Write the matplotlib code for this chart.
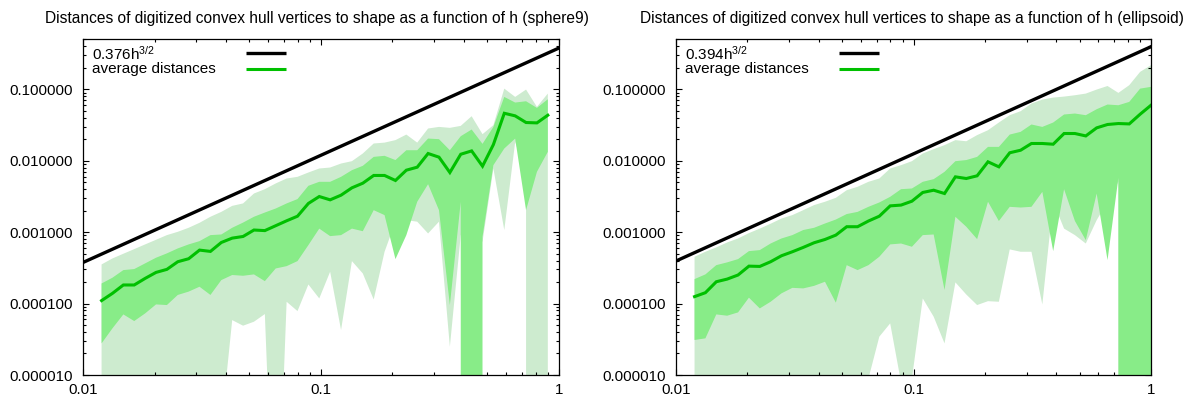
import numpy as np
import matplotlib
matplotlib.use("Agg")
import matplotlib.pyplot as plt
from matplotlib.ticker import LogLocator, FuncFormatter, NullFormatter
from matplotlib.transforms import Bbox, TransformedBbox

plt.rcParams['font.family'] = ['Liberation Sans', 'DejaVu Sans']
plt.rcParams['mathtext.fontset'] = 'custom'
plt.rcParams['mathtext.rm'] = 'Liberation Sans'
plt.rcParams['mathtext.it'] = 'Liberation Sans:italic'

# grid step h (0.9^k), shared by both shapes
h_sphere = [0.01197, 0.01330, 0.01478, 0.01642, 0.01825, 0.02028, 0.02253, 0.02503,
            0.02781, 0.03090, 0.03434, 0.03815, 0.04239, 0.04710, 0.05233, 0.05815,
            0.06461, 0.07179, 0.07977, 0.08863, 0.09848, 0.1094, 0.1216, 0.1351,
            0.1501, 0.1668, 0.1853, 0.2059, 0.2288, 0.2542, 0.2824, 0.3138,
            0.3487, 0.3874, 0.4305, 0.4783, 0.5314, 0.5905, 0.6561, 0.7290,
            0.8100, 0.9000]
h_ellipsoid = h_sphere + [1.0]

# sphere9: min / max, mean -/+ std, mean of vertex distances
sphere_max = [3.53e-4, 4.28e-4, 4.98e-4, 5.78e-4, 6.73e-4, 7.81e-4, 9.08e-4, 1.01e-3,
              1.15e-3, 1.35e-3, 1.64e-3, 1.92e-3, 2.33e-3, 2.52e-3, 3.47e-3, 3.99e-3,
              4.80e-3, 5.63e-3, 5.94e-3, 6.83e-3, 7.77e-3, 8.02e-3, 9.12e-3, 9.84e-3,
              1.26e-2, 1.74e-2, 1.79e-2, 1.94e-2, 2.32e-2, 1.79e-2, 2.82e-2, 2.97e-2,
              2.88e-2, 3.07e-2, 4.19e-2, 2.35e-2, 3.14e-2, 0.102, 7.81e-2, 9.89e-2,
              5.66e-2, 8.69e-2]
sphere_sd_hi = [1.91e-4, 2.30e-4, 2.94e-4, 3.04e-4, 3.65e-4, 4.38e-4, 5.04e-4, 5.91e-4,
                6.73e-4, 7.48e-4, 9.08e-4, 9.27e-4, 1.15e-3, 1.36e-3, 1.64e-3, 1.88e-3,
                2.14e-3, 2.52e-3, 2.90e-3, 4.45e-3, 5.06e-3, 5.06e-3, 5.94e-3, 7.36e-3,
                8.47e-3, 1.13e-2, 1.17e-2, 1.02e-2, 1.40e-2, 1.40e-2, 2.04e-2, 2.00e-2,
                1.40e-2, 2.20e-2, 2.73e-2, 1.72e-2, 2.97e-2, 7.81e-2, 6.51e-2, 6.79e-2,
                5.48e-2, 7.24e-2]
sphere_avg = [1.10e-4, 1.39e-4, 1.82e-4, 1.82e-4, 2.25e-4, 2.73e-4, 3.01e-4, 3.85e-4,
              4.24e-4, 5.60e-4, 5.37e-4, 7.16e-4, 8.24e-4, 8.69e-4, 1.07e-3, 1.05e-3,
              1.23e-3, 1.44e-3, 1.67e-3, 2.52e-3, 3.15e-3, 2.83e-3, 3.29e-3, 4.17e-3,
              4.84e-3, 6.21e-3, 6.21e-3, 5.28e-3, 7.36e-3, 8.11e-3, 1.26e-2, 1.12e-2,
              6.83e-3, 1.23e-2, 1.37e-2, 8.38e-3, 1.68e-2, 4.61e-2, 4.24e-2, 3.42e-2,
              3.38e-2, 4.33e-2]
sphere_sd_lo = [2.77e-5, 4.50e-5, 7.05e-5, 5.69e-5, 7.28e-5, 9.73e-5, 9.53e-5, 1.32e-4,
                1.47e-4, 1.72e-4, 1.32e-4, 2.13e-4, 2.51e-4, 2.45e-4, 2.56e-4, 2.06e-4,
                3.10e-4, 3.34e-4, 3.93e-4, 6.58e-4, 1.12e-3, 8.79e-4, 9.08e-4, 1.12e-3,
                1.03e-3, 2.03e-3, 1.73e-3, 4.19e-4, 9.08e-4, 2.66e-3, 4.69e-3, 2.03e-3,
                9.53e-5, 2.66e-3, 0.0, 8.61e-4, 8.65e-3, 1.48e-2, 2.04e-2, 2.03e-3,
                6.98e-3, 1.33e-2]
sphere_min = [0.0, 0.0, 0.0, 0.0, 0.0, 0.0, 0.0, 0.0,
              0.0, 0.0, 0.0, 1.9e-6, 5.87e-5, 4.90e-5, 5.57e-5, 7.13e-5,
              1e-8, 1.06e-4, 7.85e-5, 1.85e-4, 1.18e-4, 2.79e-4, 4.26e-5, 3.93e-4,
              2.64e-4, 1.14e-4, 5.31e-4, 1.40e-3, 1.47e-3, 1.40e-3, 9.58e-4, 1.40e-3,
              2.49e-5, 9.08e-4, 9.08e-4, 7.33e-4, 7.77e-3, 1.07e-3, 1.83e-2, 6.27e-3,
              0.0, 0.0]

# ellipsoid
ellipsoid_max = [4.52e-4, 5.31e-4, 6.11e-4, 7.16e-4, 8.15e-4, 9.68e-4, 1.12e-3, 1.31e-3,
                 1.55e-3, 1.73e-3, 2.03e-3, 2.39e-3, 2.66e-3, 3.02e-3, 3.86e-3, 4.31e-3,
                 5.06e-3, 5.63e-3, 7.77e-3, 8.65e-3, 9.84e-3, 1.26e-2, 1.45e-2, 1.65e-2,
                 1.94e-2, 1.87e-2, 2.28e-2, 2.67e-2, 3.42e-2, 4.33e-2, 4.92e-2, 6.31e-2,
                 7.16e-2, 7.64e-2, 7.89e-2, 8.24e-2, 8.69e-2, 9.89e-2, 0.111, 8.89e-2,
                 0.114, 0.175, 0.217]
ellipsoid_sd_hi = [2.20e-4, 2.56e-4, 3.45e-4, 3.77e-4, 4.19e-4, 5.42e-4, 5.60e-4, 6.93e-4,
                   8.15e-4, 9.08e-4, 1.07e-3, 1.15e-3, 1.32e-3, 1.50e-3, 1.79e-3, 1.92e-3,
                   2.26e-3, 2.60e-3, 3.12e-3, 3.99e-3, 4.08e-3, 5.06e-3, 5.51e-3, 6.98e-3,
                   9.84e-3, 1.02e-2, 1.13e-2, 1.56e-2, 1.56e-2, 2.32e-2, 2.53e-2, 3.21e-2,
                   2.97e-2, 3.42e-2, 4.43e-2, 4.57e-2, 4.33e-2, 5.25e-2, 6.11e-2, 5.97e-2,
                   6.65e-2, 0.102, 0.108]
ellipsoid_avg = [1.25e-4, 1.42e-4, 2.02e-4, 2.20e-4, 2.51e-4, 3.34e-4, 3.31e-4, 3.85e-4,
                 4.67e-4, 5.31e-4, 6.11e-4, 7.10e-4, 7.89e-4, 9.08e-4, 1.19e-3, 1.19e-3,
                 1.43e-3, 1.67e-3, 2.33e-3, 2.39e-3, 2.71e-3, 3.59e-3, 3.86e-3, 3.47e-3,
                 5.94e-3, 5.63e-3, 6.14e-3, 9.64e-3, 8.20e-3, 1.29e-2, 1.40e-2, 1.74e-2,
                 1.74e-2, 1.70e-2, 2.40e-2, 2.40e-2, 2.22e-2, 2.88e-2, 3.21e-2, 3.31e-2,
                 3.27e-2, 4.47e-2, 5.97e-2]
ellipsoid_sd_lo = [3.09e-5, 3.26e-5, 7.05e-5, 6.76e-5, 7.52e-5, 1.21e-4, 8.55e-5, 1.06e-4,
                   1.39e-4, 1.66e-4, 1.63e-4, 1.77e-4, 2.02e-4, 1.03e-4, 3.45e-4, 2.94e-4,
                   3.45e-4, 4.52e-4, 6.73e-4, 6.93e-4, 6.24e-4, 9.08e-4, 9.27e-4, 1.55e-4,
                   1.64e-3, 1.19e-3, 7.98e-4, 2.66e-3, 1.43e-3, 2.26e-3, 2.21e-3, 2.26e-3,
                   3.66e-3, 5.42e-4, 3.99e-3, 1.43e-3, 7.73e-4, 3.47e-3, 4.06e-4, 5.75e-3,
                   0.0, 0.0, 0.0]
ellipsoid_min = [0.0, 0.0, 0.0, 0.0, 0.0, 0.0, 0.0, 0.0,
                 0.0, 0.0, 0.0, 0.0, 0.0, 0.0, 0.0, 0.0,
                 8.9e-6, 3.44e-5, 5.28e-5, 7.9e-6, 8.9e-6, 1.18e-4, 6.55e-5, 2.77e-5,
                 1.98e-4, 1.34e-4, 9.53e-5, 1.08e-4, 1.06e-4, 5.73e-4, 5.31e-4, 5.31e-4,
                 9.73e-5, 2.66e-3, 1.12e-3, 9.08e-4, 6.93e-4, 1.47e-3, 2.66e-3, 5.06e-3,
                 0.0, 0.0, 0.0]

# fitted bound coefficients  c * h^(3/2)
coef_sphere = 0.376
coef_ellipsoid = 0.394

titles = ["Distances of digitized convex hull vertices to shape as a function of h (sphere9)",
          "Distances of digitized convex hull vertices to shape as a function of h (ellipsoid)"]

LIGHT = "#cdebcf"
DARK = "#88ec88"
GREEN = "#00c000"
FS_TITLE = 11.2
FS_KEY = 11.0
FS_TICK = 10.8

W, H = 1183, 401
fig = plt.figure(figsize=(W / 100, H / 100), dpi=100)

panels = [
    dict(rect=[83 / W, 26 / H, 475.7 / W, 335.7 / H], h=h_sphere, lo=sphere_min, hi=sphere_max,
         slo=sphere_sd_lo, shi=sphere_sd_hi, avg=sphere_avg, c=coef_sphere,
         title=titles[0], tx=45 / W, clip=[[0, 0], [591.5 / W, 1]]),
    dict(rect=[676 / W, 26 / H, 475 / W, 335.7 / H], h=h_ellipsoid, lo=ellipsoid_min,
         hi=ellipsoid_max, slo=ellipsoid_sd_lo, shi=ellipsoid_sd_hi, avg=ellipsoid_avg,
         c=coef_ellipsoid, title=titles[1], tx=640 / W, clip=[[591.5 / W, 0], [1, 1]]),
]

for p in panels:
    ax = fig.add_axes(p["rect"])
    ax.set_xscale("log")
    ax.set_yscale("log")
    h = np.array(p["h"])
    ax.fill_between(h, p["lo"], p["hi"], color=LIGHT, lw=0, zorder=1)
    ax.fill_between(h, p["slo"], p["shi"], color=DARK, lw=0, zorder=2)
    ax.plot(h, p["avg"], color=GREEN, lw=2.2, zorder=3, solid_joinstyle="miter")
    hh = np.geomspace(0.01, 1.0, 100)
    ax.plot(hh, p["c"] * hh ** 1.5, color="black", lw=2.4, zorder=4)

    ax.set_xlim(0.01, 1.0)
    ax.set_ylim(1e-5, 0.5)

    # key: text left-justified, sample line to its right
    key_rows = [(f"{p['c']:.3f}h$^{{3/2}}$", "black", 0.9404, 0.958),
                ("average distances", GREEN, 0.8987, 0.912)]
    for label, col, ty, ly in key_rows:
        ax.text(0.019, ty, label, transform=ax.transAxes, ha="left", va="baseline",
                fontsize=FS_KEY, zorder=6)
        ax.plot([0.343, 0.427], [ly, ly], transform=ax.transAxes, color=col,
                lw=2.4 if col == "black" else 2.2, zorder=6, solid_capstyle="butt")

    ax.xaxis.set_major_locator(LogLocator(base=10, numticks=10))
    ax.xaxis.set_minor_locator(LogLocator(base=10, subs=np.arange(2, 10), numticks=20))
    ax.xaxis.set_major_formatter(FuncFormatter(lambda v, pos: f"{v:g}"))
    ax.xaxis.set_minor_formatter(NullFormatter())
    ax.yaxis.set_major_locator(LogLocator(base=10, numticks=10))
    ax.yaxis.set_minor_locator(LogLocator(base=10, subs=np.arange(2, 10), numticks=20))
    ax.yaxis.set_major_formatter(FuncFormatter(lambda v, pos: f"{v:f}"))
    ax.yaxis.set_minor_formatter(NullFormatter())
    ax.tick_params(which="both", direction="in", top=True, right=True, width=0.8,
                   labelsize=FS_TICK, colors="black")
    ax.tick_params(which="major", length=4.5)
    ax.tick_params(which="minor", length=2.5)
    ax.tick_params(axis="y", which="major", pad=7.5)
    ax.tick_params(axis="x", which="major", pad=6)
    for s in ax.spines.values():
        s.set_linewidth(0.9)
        s.set_zorder(7)

    t = fig.text(p["tx"], 1 - 23 / H, p["title"], ha="left", va="baseline",
                 fontsize=FS_TITLE)
    t.set_clip_box(TransformedBbox(Bbox(p["clip"]), fig.transFigure))
    t.set_clip_on(True)

fig.savefig("out.png", dpi=100)
